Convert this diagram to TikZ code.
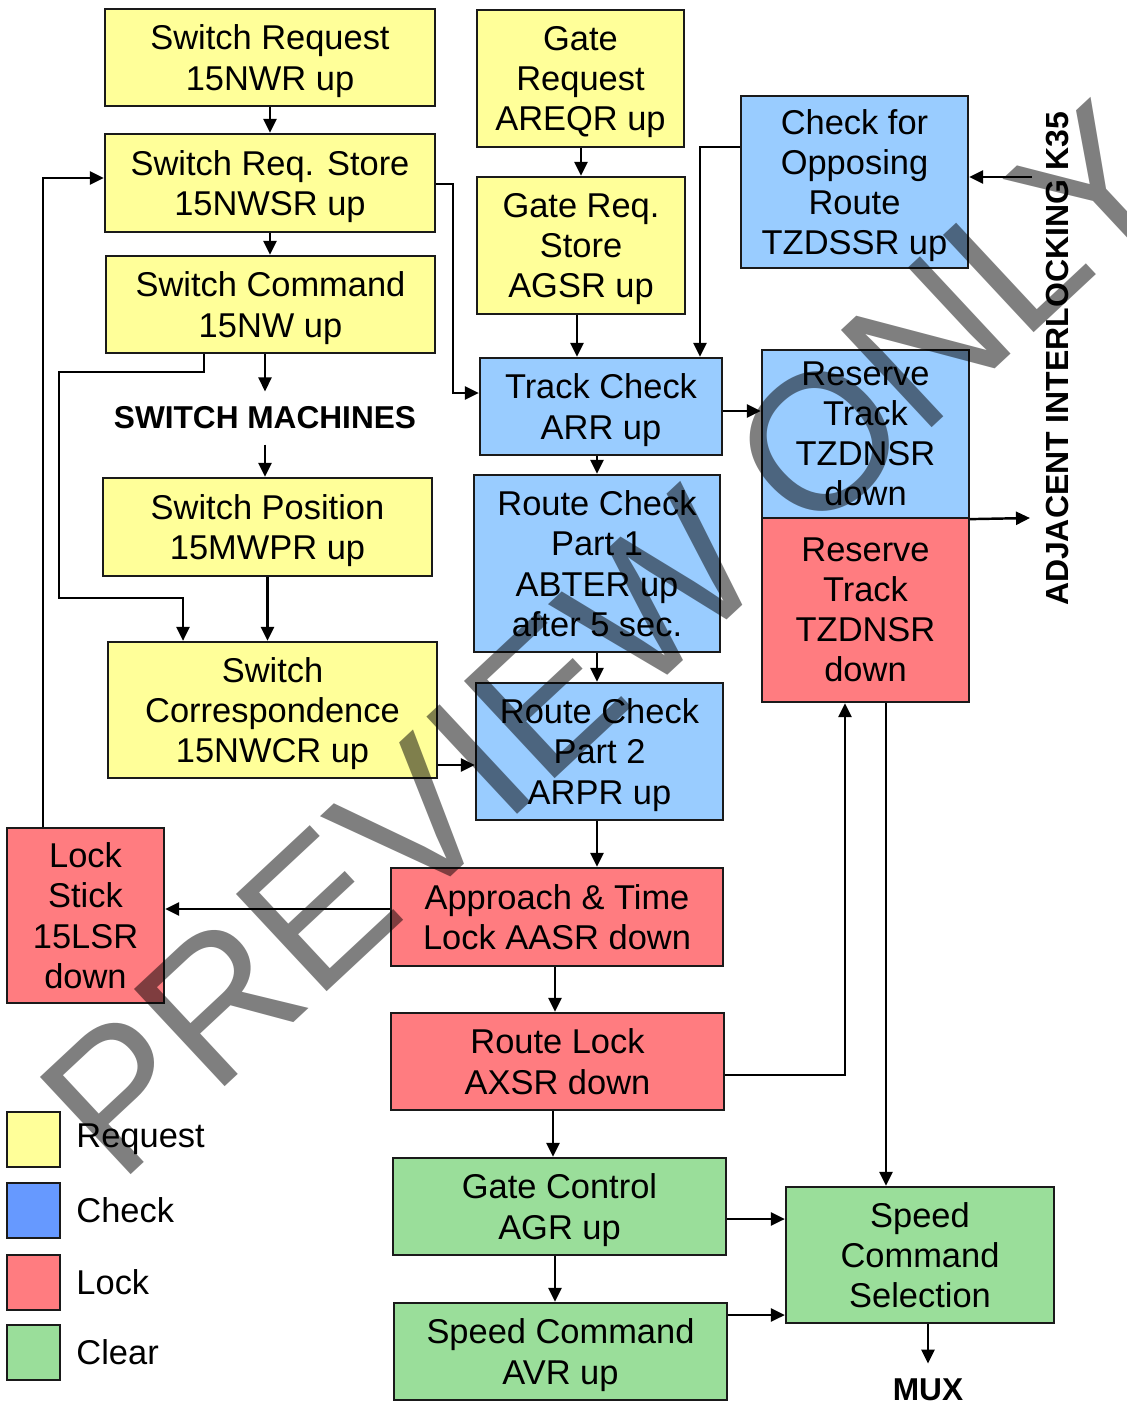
\documentclass[tikz,border=0pt]{standalone}
\usepackage{fontspec}
\setmainfont{Liberation Sans}
\usetikzlibrary{positioning,calc,arrows.meta}

\definecolor{reqyellow}{HTML}{FFFF99}
\definecolor{chkblue}{HTML}{99CCFF}
\definecolor{lockred}{HTML}{FF7C80}
\definecolor{clrgreen}{HTML}{9ADE9A}
\definecolor{keyblue}{HTML}{6699FF}
\definecolor{edgegray}{HTML}{1A1A1A}

\tikzset{
  blk/.style={draw=edgegray, line width=1.3pt, align=center, inner sep=0pt, text depth=0pt,
              font=\fontsize{19.6}{22.8}\selectfont},
  reqbox/.style={blk, fill=reqyellow},
  chkbox/.style={blk, fill=chkblue},
  lockbox/.style={blk, fill=lockred},
  clrbox/.style={blk, fill=clrgreen},
  tag/.style={inner sep=0pt, font=\fontsize{18}{20}\selectfont\bfseries},
  keybox/.style={draw=edgegray, line width=1.3pt, minimum width=1.06cm, minimum height=1.1cm},
  keytxt/.style={inner sep=0pt, font=\fontsize{19.6}{22.8}\selectfont},
  arr/.style={draw=black, line width=1.4pt, -{Triangle[length=0.28cm,width=0.26cm]}}
}

\begin{document}
\begin{tikzpicture}[x=0.02cm, y=-0.02cm]
\useasboundingbox (0,0) rectangle (1126,1403);

% switch side
\node[reqbox, minimum width=6.6cm, minimum height=1.94cm] (swreq) at (270,57.5) {Switch Request\\15NWR up};
\node[reqbox, minimum width=6.6cm, minimum height=1.96cm] (swstore) at (270,183) {Switch Req. Store\\15NWSR up};
\node[reqbox, minimum width=6.58cm, minimum height=1.94cm] (swcmd) at (270.5,304.5) {Switch Command\\15NW up};
\node[tag, inner ysep=0.3cm] (mach) at (265,418) {SWITCH MACHINES};
\node[reqbox, minimum width=6.58cm, minimum height=1.96cm] (swpos) at (267.5,527) {Switch Position\\15MWPR up};
\node[reqbox, minimum width=6.58cm, minimum height=2.72cm] (swcorr) at (272.5,710) {Switch\\Correspondence\\15NWCR up};

% gate side
\node[reqbox, minimum width=4.14cm, minimum height=2.74cm] (gatereq) at (580.5,78.5) {Gate\\Request\\AREQR up};
\node[reqbox, minimum width=4.16cm, minimum height=2.74cm] (gatestore) at (581,245.5) {Gate Req.\\Store\\AGSR up};

% checks
\node[chkbox, minimum width=4.54cm, minimum height=3.44cm] (opposing) at (854.5,182) {Check for\\Opposing\\Route\\TZDSSR up};
\node[chkbox, minimum width=4.84cm, minimum height=1.94cm] (trackchk) at (601,406.5) {Track Check\\ARR up};
\node[chkbox, minimum width=4.92cm, minimum height=3.54cm] (route1) at (597,563.5) {Route Check\\Part 1\\ABTER up\\after 5 sec.};
\node[chkbox, minimum width=4.94cm, minimum height=2.74cm] (route2) at (599.5,751.5) {Route Check\\Part 2\\ARPR up};
\node[chkbox, minimum width=4.14cm, minimum height=3.36cm] (reserveA) at (865.5,434) {Reserve\\Track\\TZDNSR\\down};
\node[lockbox, minimum width=4.14cm, minimum height=3.68cm] (reserveB) at (865.5,610) {Reserve\\Track\\TZDNSR\\down};

% locks
\node[lockbox, minimum width=3.14cm, minimum height=3.5cm] (lockstick) at (85.5,915.5) {Lock\\Stick\\15LSR\\down};
\node[lockbox, minimum width=6.64cm, minimum height=1.96cm] (approach) at (557,917) {Approach \& Time\\Lock AASR down};
\node[lockbox, minimum width=6.66cm, minimum height=1.94cm] (routelock) at (557.5,1061.5) {Route Lock\\AXSR down};

% clears
\node[clrbox, minimum width=6.66cm, minimum height=1.94cm] (gatectl) at (559.5,1206.5) {Gate Control\\AGR up};
\node[clrbox, minimum width=6.66cm, minimum height=1.94cm] (speedcmd) at (560.5,1351.5) {Speed Command\\AVR up};
\node[clrbox, minimum width=5.36cm, minimum height=2.72cm] (speedsel) at (920,1255) {Speed\\Command\\Selection};
\node[tag] (mux) at (928,1390) {MUX};

\node[tag, rotate=90, font=\fontsize{18.2}{20}\selectfont\bfseries] (adj) at (1058,359) {ADJACENT INTERLOCKING K35};
\coordinate (adjin) at (1032,177);
\coordinate (adjout) at (1030,518);

% legend
\foreach \ky/\kc/\kt [count=\i] in {1139.5/reqyellow/Request, 1210.5/keyblue/Check,
                                    1282.5/lockred/Lock, 1352.5/clrgreen/Clear} {
  \node[keybox, fill=\kc] (key\i) at (33.5,\ky) {};
  \node[keytxt, right=0.3cm of key\i] (keylbl\i) {\kt};
}

% connectors
\draw[arr] (swreq.south) -- (swreq.south |- swstore.north);
\draw[arr] (swstore.south) -- (swstore.south |- swcmd.north);
\draw[arr] (swcmd.south -| mach.north) -- (mach.north);
\draw[arr] (mach.south) -- (mach.south |- swpos.north);
\draw[arr] (swpos.south) -- (swpos.south |- swcorr.north);
\draw[arr] ([xshift=-1.33cm]swcmd.south) -- ++(0,18) -| (59,598) -| ([xshift=-1.79cm]swcorr.north);
\draw[arr] ([xshift=-0.85cm]lockstick.north) |- ([yshift=0.1cm]swstore.west);
\draw[arr] ([yshift=-0.02cm]swstore.east) -- ++(17,0) |- ([yshift=0.27cm]trackchk.west);

\draw[arr] (gatereq.south -| gatestore.north) -- (gatestore.north);
\draw[arr] ([xshift=-0.08cm]gatestore.south) coordinate (gs) -- (gs |- trackchk.north);
\draw[arr] ([yshift=0.7cm]opposing.west) -| ([xshift=1.98cm]trackchk.north);
\draw[arr] (adjin) -- (adjin -| opposing.east);

\draw[arr] ([yshift=-0.09cm]trackchk.east) coordinate (tc) -- (tc -| reserveA.west);
\draw[arr] ([xshift=-0.08cm]trackchk.south) coordinate (tk) -- (tk |- route1.north);
\draw[arr] (route1.south) -- (route1.south |- route2.north);
\draw[arr] ([yshift=-1.1cm]swcorr.east) coordinate (sc) -- (sc -| route2.west);
\draw[arr] ([xshift=-0.05cm]route2.south) coordinate (rt) -- (rt |- approach.north);
\draw[arr] ([yshift=0.16cm]approach.west) coordinate (ap) -- (ap -| lockstick.east);
\draw[arr] ([xshift=-0.04cm]approach.south) coordinate (al) -- (al |- routelock.north);
\draw[arr] ([yshift=-0.27cm]routelock.east) -| ([xshift=-0.41cm]reserveB.south);
\draw[arr] ([xshift=0.41cm]reserveB.south) coordinate (rb) -- (rb |- speedsel.north);
\draw[arr] (reserveA.south east) -- (adjout);

\draw[arr] ([xshift=-0.09cm]routelock.south) coordinate (rl) -- (rl |- gatectl.north);
\draw[arr] ([xshift=-0.09cm]gatectl.south) coordinate (gl) -- (gl |- speedcmd.north);
\draw[arr] ([yshift=-0.25cm]gatectl.east) coordinate (gc) -- (gc -| speedsel.west);
\draw[arr] ([yshift=0.73cm]speedcmd.east) coordinate (sv) -- (sv -| speedsel.west);
\draw[arr] ([xshift=0.16cm]speedsel.south) coordinate (ss) -- ([yshift=0.3cm]ss |- mux.north);

% watermark
\node[rotate=43, text=black, opacity=0.5, inner sep=0pt,
      font=\fontsize{110}{110}\selectfont] (wmark) at (607,640) {PREVIEW ONLY};
\end{tikzpicture}
\end{document}
